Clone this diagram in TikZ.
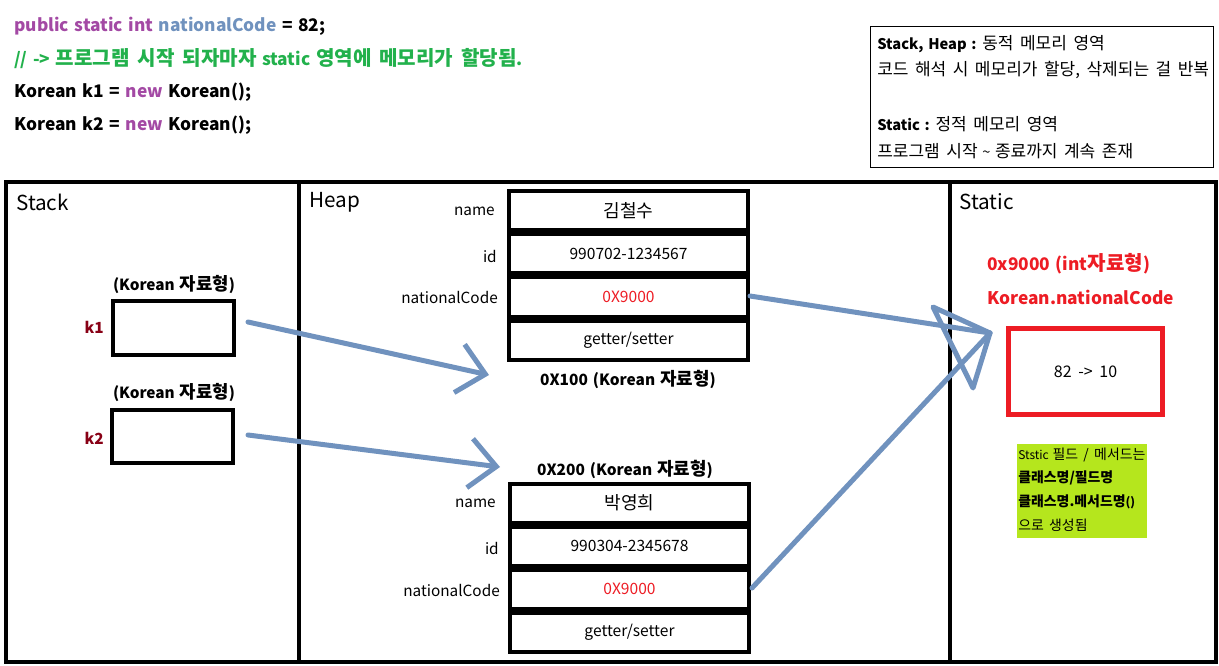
\documentclass[tikz,border=0pt]{standalone}
\usepackage{fontspec}
\setmainfont{Noto Sans CJK KR}[WordSpace=1.4]
\newfontfamily\krfont{Noto Sans CJK KR}[Scale=1.16,WordSpace=1.7]
\newcommand{\krtxt}[1]{{\krfont #1}}
\usetikzlibrary{arrows.meta}
\definecolor{cpurple}{HTML}{A349A4}
\definecolor{cblue}{HTML}{7092BE}
\definecolor{cgreen}{HTML}{22B14C}
\definecolor{cred}{HTML}{ED1C24}
\definecolor{cdred}{HTML}{880015}
\definecolor{clime}{HTML}{B5E61D}
\begin{document}
\begin{tikzpicture}[x=0.75pt,y=-0.75pt,
  codeline/.style={anchor=west,inner sep=0pt,font=\fontsize{13}{15}\selectfont\bfseries},
  areatitle/.style={anchor=west,inner sep=0pt,font=\fontsize{15.5}{18}\selectfont},
  cell/.style={draw,line width=3pt,minimum width=179.5pt,minimum height=29.25pt,inner sep=0pt,font=\fontsize{11.7}{13}\selectfont},
  fieldlbl/.style={anchor=east,inner sep=0pt,font=\fontsize{11.5}{13}\selectfont},
  objlbl/.style={inner sep=0pt,font=\fontsize{11.6}{14}\selectfont\bfseries},
  refbox/.style={draw,line width=3pt,minimum width=91pt,minimum height=40pt,inner sep=0pt},
  reflbl/.style={inner sep=0pt,font=\fontsize{11.5}{13}\selectfont\bfseries},
  varlbl/.style={anchor=east,inner sep=0pt,text=cdred,font=\fontsize{11.5}{14}\selectfont\bfseries},
  notetext/.style={anchor=west,inner sep=0pt,font=\fontsize{11}{13}\selectfont},
  redlbl/.style={anchor=west,inner sep=0pt,text=cred,font=\fontsize{13}{16}\selectfont\bfseries},
  greentext/.style={anchor=west,inner sep=0pt,font=\fontsize{9}{11}\selectfont},
  ptr/.style={draw=cblue,line width=3.75pt,line cap=round,line join=round,-{Straight Barb[length=20pt,width=37pt]}},
  ptrline/.style={draw=cblue,line width=3.75pt,line cap=round,line join=round}
]
\useasboundingbox (0,0) rectangle (1219,666);
% code
\node[codeline] (c1) at (14,26) {\textcolor{cpurple}{public static int} \textcolor{cblue}{nationalCode} = 82;};
\node[codeline,text=cgreen] (c2) at (14,59) {// -> \krtxt{프로그램 시작 되자마자} static \krtxt{영역에 메모리가 할당됨}.};
\node[codeline] (c3) at (14,92) {Korean k1 = \textcolor{cpurple}{new} Korean();};
\node[codeline] (c4) at (14,125) {Korean k2 = \textcolor{cpurple}{new} Korean();};
% note box
\node[draw,line width=0.75pt,minimum width=257.25pt,minimum height=105.75pt,inner sep=0pt] (note) at (1041.5,97.5) {};
\node[notetext] (n1) at (877,44) {\textbf{Stack, Heap :} \krtxt{동적 메모리 영역}};
\node[notetext] (n2) at (877,70) {\krtxt{코드 해석 시 메모리가 할당, 삭제되는 걸 반복}};
\node[notetext] (n3) at (877,124) {\textbf{Static :} \krtxt{정적 메모리 영역}};
\node[notetext] (n4) at (877,151) {\krtxt{프로그램 시작} \textasciitilde{} \krtxt{종료까지 계속 존재}};
% frame
\draw[line width=3pt] (6,182) rectangle (1216,662);
\draw[line width=2.5pt] (299,182) -- (299,662);
\draw[line width=2.5pt] (950,182) -- (950,662);
\node[areatitle] (tstack) at (16,202) {Stack};
\node[areatitle] (theap) at (309,202) {Heap};
\node[areatitle] (tstatic) at (959,202) {Static};
% stack
\node[reflbl] (kl1) at (174,285) {(Korean \krtxt{자료형})};
\node[refbox] (k1) at (173.5,328) {};
\node[varlbl] (v1) at (104,327) {k1};
\node[reflbl] (kl2) at (174,393) {(Korean \krtxt{자료형})};
\node[refbox] (k2) at (172.5,436.5) {};
\node[varlbl] (v2) at (104,438) {k2};
% heap object 1
\node[cell] (o1n) at (628.5,211) {\krtxt{김철수}};
\node[cell] (o1i) at (628.5,254) {990702-1234567};
\node[cell,text=cred] (o1c) at (628.5,297) {0X9000};
\node[cell] (o1g) at (628.5,340) {getter/setter};
\node[fieldlbl] (f1n) at (495,211) {name};
\node[fieldlbl] (f1i) at (497,256) {id};
\node[fieldlbl] (f1c) at (498,297) {nationalCode};
\node[objlbl] (o1) at (628,379) {0X100 (Korean \krtxt{자료형})};
% heap object 2
\node[objlbl] (o2) at (625,469) {0X200 (Korean \krtxt{자료형})};
\node[cell] (o2n) at (629.5,503) {\krtxt{박영희}};
\node[cell] (o2i) at (629.5,546) {990304-2345678};
\node[cell,text=cred] (o2c) at (629.5,589) {0X9000};
\node[cell] (o2g) at (629.5,632) {getter/setter};
\node[fieldlbl] (f2n) at (496,503) {name};
\node[fieldlbl] (f2i) at (499,548) {id};
\node[fieldlbl] (f2c) at (500,590) {nationalCode};
% static
\node[redlbl] (s1) at (987,264) {0x9000 (int\krtxt{자료형})};
\node[redlbl] (s2) at (987,297) {Korean.nationalCode};
\node[draw=cred,line width=3.75pt,minimum width=115.5pt,minimum height=64.5pt,inner sep=0pt,font=\fontsize{12}{14}\selectfont] (sv) at (1085.5,371.5) {82\hspace{5pt}->\hspace{5pt}10};
\node[fill=clime,minimum width=97.5pt,minimum height=70.5pt,inner sep=0pt] (gbox) at (1082,491) {};
\node[greentext] (g1) at (1018,455) {Ststic \krtxt{필드 / 메서드는}};
\node[greentext,font=\fontsize{9}{11}\selectfont\bfseries] (g2) at (1018,478) {\krtxt{클래스명/필드명}};
\node[greentext,font=\fontsize{9}{11}\selectfont\bfseries] (g3) at (1018,502) {\krtxt{클래스명.메서드명}()};
\node[greentext] (g4) at (1018,525) {\krtxt{으로 생성됨}};
% arrows
\coordinate (a1s) at (248,322);
\coordinate (a1e) at (489,375);
\coordinate (a2s) at (248,435);
\coordinate (a2e) at (500,467);
\coordinate (a3s) at (750,296);
\coordinate (a4s) at (752,588);
\coordinate (tip) at (990,333);
\coordinate (hA) at (933,307);
\coordinate (hB) at (973,388);
\draw[ptr] (a1s) -- (a1e);
\draw[ptr] (a2s) -- (a2e);
\draw[ptrline] (a3s) -- (tip);
\draw[ptrline] (a4s) -- (tip);
\draw[ptrline] (hA) -- (tip) -- (hB) -- cycle;
\end{tikzpicture}
\end{document}
